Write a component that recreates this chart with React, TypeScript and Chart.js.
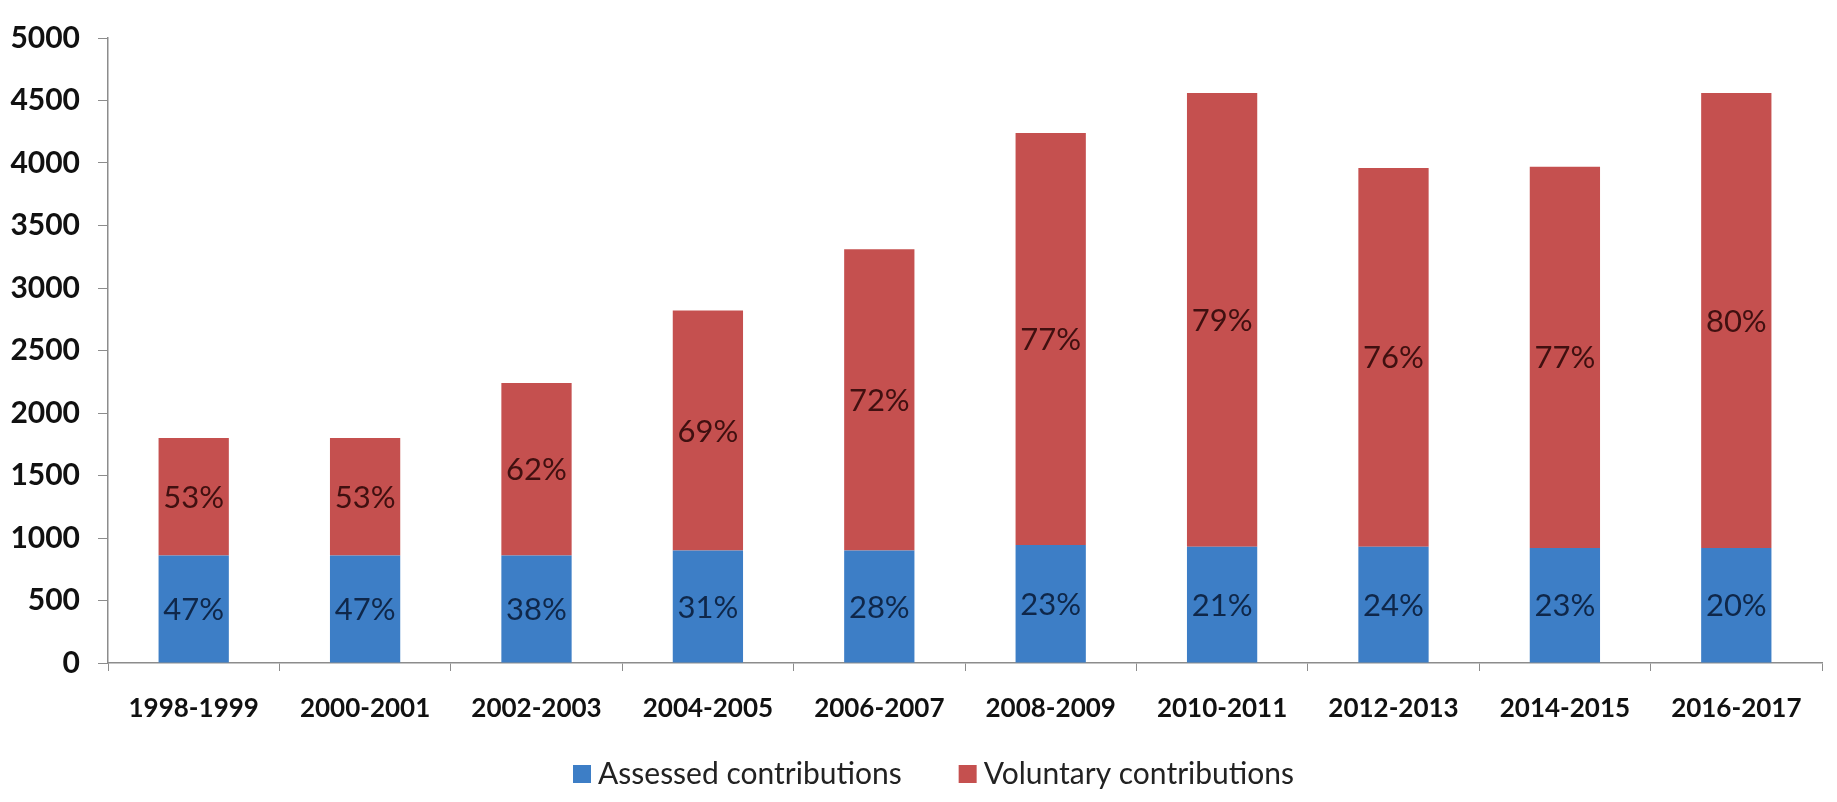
import React, { useEffect, useRef } from "react";
import { Chart, registerables } from "chart.js";

Chart.register(...registerables);

const categories = [
  "1998-1999",
  "2000-2001",
  "2002-2003",
  "2004-2005",
  "2006-2007",
  "2008-2009",
  "2010-2011",
  "2012-2013",
  "2014-2015",
  "2016-2017",
];

const assessed = [860, 860, 860, 900, 900, 945, 930, 930, 920, 920];
const voluntary = [940, 940, 1380, 1920, 2410, 3295, 3630, 3030, 3050, 3640];

const assessedPct = ["47%", "47%", "38%", "31%", "28%", "23%", "21%", "24%", "23%", "20%"];
const voluntaryPct = ["53%", "53%", "62%", "69%", "72%", "77%", "79%", "76%", "77%", "80%"];

const yTicks = [0, 500, 1000, 1500, 2000, 2500, 3000, 3500, 4000, 4500, 5000];

const FONT = "Lato, 'Open Sans', 'Noto Sans', sans-serif";

const pctLabelPlugin = {
  id: "pctLabels",
  afterDatasetsDraw(chart: any) {
    const ctx = chart.ctx;
    ctx.save();
    ctx.font = `normal 31px ${FONT}`;
    ctx.textAlign = "center";
    ctx.textBaseline = "middle";
    [assessedPct, voluntaryPct].forEach((arr, di) => {
      const meta = chart.getDatasetMeta(di);
      meta.data.forEach((bar: any, j: number) => {
        const p = bar.getProps(["x", "y", "base"], true);
        ctx.fillStyle = di === 0 ? "rgba(10,30,60,0.9)" : "rgba(40,5,5,0.85)";
        ctx.fillText(arr[j], p.x, (p.y + p.base) / 2 + 1);
      });
    });
    ctx.restore();
  },
};

const legendPlugin = {
  id: "customLegend",
  afterDraw(chart: any) {
    const ctx = chart.ctx;
    ctx.save();
    ctx.font = `normal 30px ${FONT}`;
    ctx.textBaseline = "middle";
    ctx.textAlign = "left";
    const cy = 774;
    const box = 18;
    const gap = 7;
    const itemGap = 57;
    let x = 573;
    chart.data.datasets.forEach((ds: any) => {
      ctx.fillStyle = ds.backgroundColor;
      ctx.fillRect(x, cy - box / 2, box, box);
      x += box + gap;
      ctx.fillStyle = "#222";
      ctx.fillText(ds.label, x, cy);
      x += ctx.measureText(ds.label).width + itemGap;
    });
    ctx.restore();
  },
};

export default function App() {
  const ref = useRef<HTMLCanvasElement | null>(null);

  useEffect(() => {
    if (!ref.current) return;
    const chart = new Chart(ref.current, {
      type: "bar",
      data: {
        labels: categories,
        datasets: [
          {
            label: "Assessed contributions",
            data: assessed,
            backgroundColor: "#3d7ec6",
            barPercentage: 0.41,
            categoryPercentage: 1,
          },
          {
            label: "Voluntary contributions",
            data: voluntary,
            backgroundColor: "#c5504f",
            barPercentage: 0.41,
            categoryPercentage: 1,
          },
        ],
      },
      options: {
        responsive: false,
        maintainAspectRatio: false,
        animation: false,
        devicePixelRatio: 1,
        layout: { padding: { top: 38, right: 15, left: 0, bottom: 0 } },
        plugins: {
          tooltip: { enabled: false },
          legend: { display: false },
        },
        scales: {
          x: {
            stacked: true,
            border: { display: true, color: "#8c8c8c", width: 1.5 },
            grid: {
              display: true,
              drawOnChartArea: false,
              drawTicks: true,
              tickLength: 8,
              color: "#8c8c8c",
              offset: true,
            },
            ticks: {
              color: "#111",
              padding: 22,
              maxRotation: 0,
              font: { family: FONT, size: 26, weight: "bold" },
            },
            afterFit: (scale: any) => {
              scale.height = 139;
            },
          },
          y: {
            stacked: true,
            min: 0,
            max: 5000,
            border: { display: true, color: "#8c8c8c", width: 1.5 },
            grid: {
              display: true,
              drawOnChartArea: false,
              drawTicks: true,
              tickLength: 10,
              color: "#8c8c8c",
            },
            afterBuildTicks: (scale: any) => {
              scale.ticks = yTicks.map((v) => ({ value: v }));
            },
            ticks: {
              color: "#111",
              padding: 18,
              font: { family: FONT, size: 30, weight: "bold" },
              callback: (v: any) => String(v),
            },
            afterFit: (scale: any) => {
              scale.width = 108;
            },
          },
        },
      },
      plugins: [pctLabelPlugin, legendPlugin],
    });
    return () => chart.destroy();
  }, []);

  return (
    <div style={{ position: "fixed", left: 0, top: 0, width: 1837, height: 802, background: "#fff" }}>
      <canvas ref={ref} width={1837} height={802} style={{ width: 1837, height: 802 }} />
    </div>
  );
}
